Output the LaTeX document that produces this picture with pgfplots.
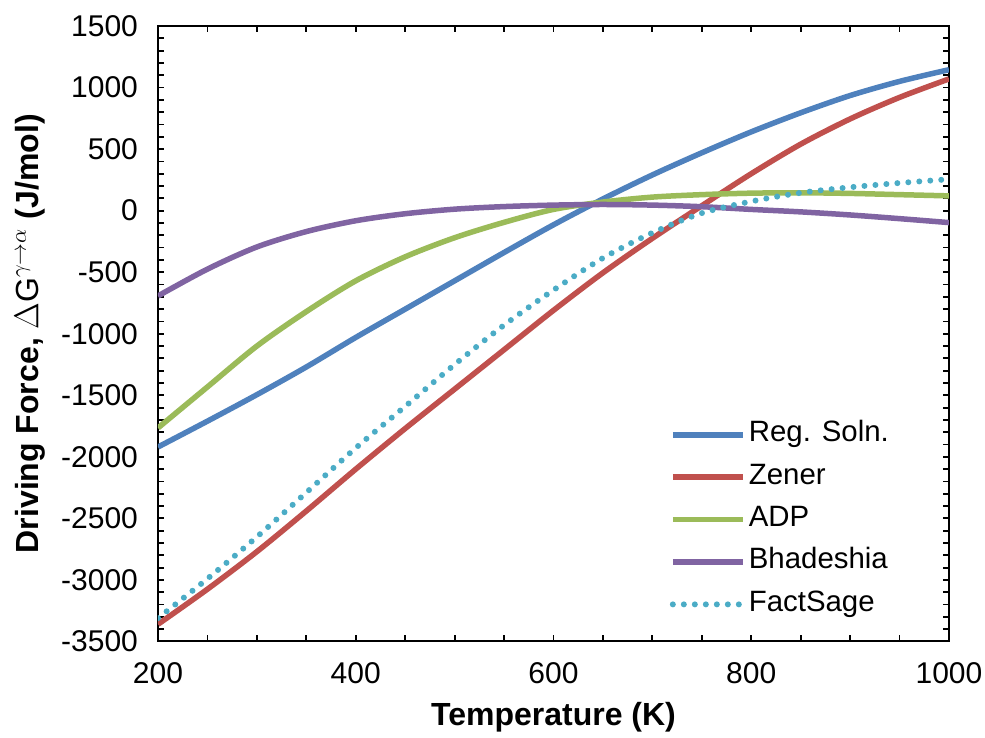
\documentclass[border=0pt]{standalone}
\usepackage{fontspec}
\setmainfont{Liberation Sans}
\usepackage{pgfplots}
\pgfplotsset{compat=1.18}
\definecolor{cblue}{HTML}{4F81BD}
\definecolor{cred}{HTML}{C0504D}
\definecolor{cgreen}{HTML}{9BBB59}
\definecolor{cpurple}{HTML}{8064A2}
\definecolor{caqua}{HTML}{4BACC6}
\begin{document}
\begin{tikzpicture}
\useasboundingbox (-79pt,-48.25pt) rectangle (413.5pt,320.75pt);
\begin{axis}[
  at={(0,0)}, anchor=south west,
  scale only axis, width=395.5pt, height=307.75pt,
  xmin=200, xmax=1000, ymin=-3500, ymax=1500,
  xtick={200,400,...,1000}, ytick={-3500,-3000,...,1500},
  minor x tick num=3, minor y tick num=4,
  tick align=inside, xtick pos=both, ytick pos=both,
  xticklabel pos=bottom, yticklabel pos=left,
  major tick length=3pt, minor tick length=3pt,
  axis line style={line width=1pt},
  every tick/.style={black, line width=0.9pt},
  tick label style={font=\fontsize{15}{17}\selectfont},
  /pgf/number format/assume math mode=true,
  /pgf/number format/1000 sep={},
  scaled ticks=false,
  yticklabel style={xshift=-6.5pt},
  xticklabel style={yshift=-7pt},
  xlabel={\textbf{Temperature (K)}},
  xlabel style={font=\fontsize{16}{19}\selectfont, at={(axis description cs:0.5,0)}, anchor=center, yshift=-38pt},
  ylabel={\textbf{Driving Force,} $\Delta\mathrm{G}^{\gamma\rightarrow\alpha}$ \textbf{(J/mol)}},
  ylabel style={font=\fontsize{16}{19}\selectfont, at={(axis description cs:-0.1618,0.5)}, anchor=center},
  legend style={at={(0.639,0.369)}, anchor=north west, draw=none, fill=none,
    font=\fontsize{14.7}{17}\selectfont, row sep=5.2pt,
    nodes={inner sep=1.5pt, text height=10pt, text depth=3pt, anchor=west}},
  legend cell align=left,
  legend image code/.code={\draw[#1] (0pt,0pt) -- (35pt,0pt);},
]
\addplot[cblue, line width=2.75pt, smooth] coordinates {
(200,-1920) (250,-1710) (300,-1495) (350,-1270) (400,-1030) (450,-800) (500,-570) (550,-340) (600,-115) (650,95) (700,290) (750,470) (800,640) (850,795) (900,935) (950,1050) (1000,1145)};
\addlegendentry{Reg. Soln.}
\addplot[cred, line width=2.75pt, smooth] coordinates {
(200,-3360) (250,-3075) (300,-2770) (350,-2440) (400,-2100) (450,-1770) (500,-1450) (550,-1130) (600,-810) (650,-505) (700,-225) (750,40) (800,300) (850,540) (900,745) (950,920) (1000,1070)};
\addlegendentry{Zener}
\addplot[cgreen, line width=2.75pt, smooth] coordinates {
(200,-1765) (250,-1432) (300,-1100) (350,-820) (400,-570) (450,-375) (500,-220) (550,-95) (600,10) (650,70) (700,110) (750,130) (800,142) (850,145) (900,140) (950,130) (1000,120)};
\addlegendentry{ADP}
\addplot[cpurple, line width=2.75pt, smooth] coordinates {
(200,-693) (250,-475) (300,-295) (350,-170) (400,-82) (450,-25) (500,12) (550,33) (600,45) (650,50) (700,45) (750,32) (800,10) (850,-10) (900,-35) (950,-65) (1000,-97)};
\addlegendentry{Bhadeshia}
\addplot[caqua, line width=3pt, line cap=round, dash pattern=on 0pt off 5.5pt, smooth] coordinates {
(200,-3310) (250,-2990) (300,-2650) (350,-2290) (400,-1928) (450,-1590) (500,-1250) (550,-930) (600,-645) (650,-385) (700,-180) (750,-20) (800,75) (850,145) (900,190) (950,225) (1000,255)};
\addlegendentry{FactSage}
\end{axis}
\end{tikzpicture}
\end{document}
